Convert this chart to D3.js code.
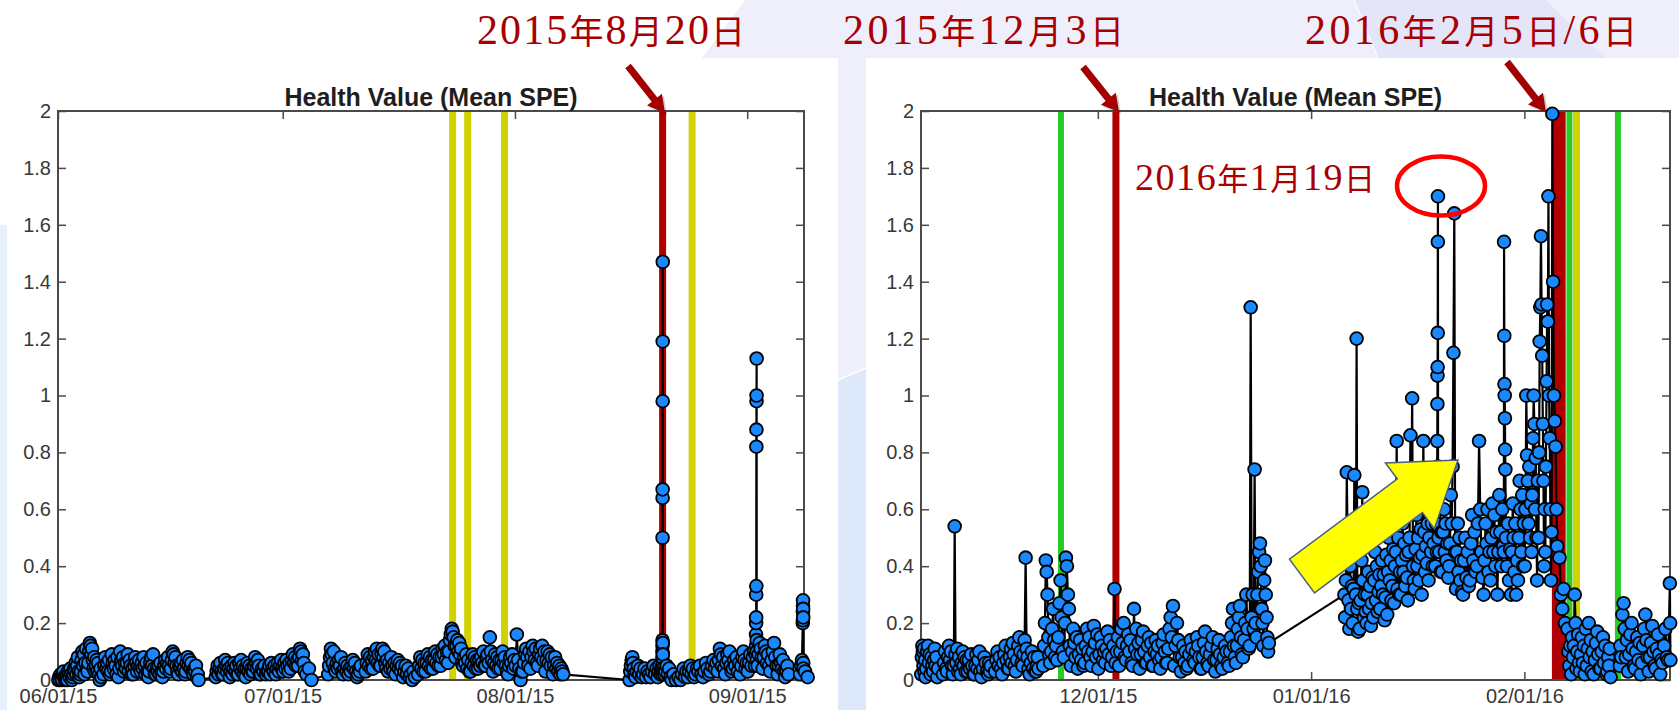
<!DOCTYPE html>
<html><head><meta charset="utf-8">
<script src="https://cdn.jsdelivr.net/npm/d3@7"></script>
<style>html,body{margin:0;padding:0;background:#fff;}svg{display:block;}</style>
</head><body>
<svg id="chart" width="1679" height="710"></svg>
<script>
// ---------------- DATA ----------------
const chartTitle = "Health Value (Mean SPE)";
const yTickValues = [0,0.2,0.4,0.6,0.8,1,1.2,1.4,1.6,1.8,2];
const yTickLabels = ["0","0.2","0.4","0.6","0.8","1","1.2","1.4","1.6","1.8","2"];
const leftXLim = ["2015-06-01T00:00","2015-09-08T14:00"];
const rightXLim = ["2015-11-05T07:00","2016-02-22T04:00"];
const leftXTicks = ["2015-06-01","2015-07-01","2015-08-01","2015-09-01"];
const leftXTickLabels = ["06/01/15","07/01/15","08/01/15","09/01/15"];
const rightXTicks = ["2015-12-01","2016-01-01","2016-02-01"];
const rightXTickLabels = ["12/01/15","01/01/16","02/01/16"];
const annotationLabels = ["2015年8月20日","2015年12月3日","2016年2月5日/6日","2016年1月19日"];

// events: [start, end(or null), type]
const leftEvents = [
 ["2015-07-23T16:20",null,"warning"],["2015-07-25T16:30",null,"warning"],
 ["2015-07-30T14:40",null,"warning"],["2015-08-20T17:00",null,"fault"],
 ["2015-08-24T15:30",null,"warning"]];
const rightEvents = [
 ["2015-11-25T15:20",null,"maintenance"],["2015-12-03T15:00",null,"fault"],
 ["2016-02-05T00:00","2016-02-07T00:00","fault"],["2016-02-07T13:10",null,"maintenance"],
 ["2016-02-08T13:40",null,"warning"],["2016-02-14T14:20",null,"maintenance"]];

// measurement segments: [day, fromHour, toHour, values]
const leftSegments = [
["2015-06-01",0,24,[0.00,0.01,0.00,0.02,0.01,0.00,0.02,0.03,0.01,0.00]],
["2015-06-02",0,24,[0.01,0.02,0.00,0.03,0.02,0.01,0.04,0.02,0.00,0.01]],
["2015-06-03",0,24,[0.02,0.04,0.03,0.06,0.02,0.05,0.08,0.03,0.01,0.02]],
["2015-06-04",0,24,[0.03,0.07,0.10,0.05,0.09,0.02,0.06,0.11,0.04,0.03]],
["2015-06-05",0,24,[0.06,0.10,0.13,0.12,0.09,0.11,0.07,0.04,0.08,0.03]],
["2015-06-06",0,20,[0.05,0.07,0.03,0.06,0.02,0.00,0.04,0.01]],
["2015-06-07",0,24,[0.02,0.05,0.08,0.04,0.06,0.03,0.07,0.02]],
["2015-06-08",0,24,[0.03,0.09,0.06,0.04,0.07,0.05,0.02,0.08]],
["2015-06-09",0,24,[0.01,0.04,0.10,0.07,0.05,0.08,0.03,0.06]],
["2015-06-10",0,24,[0.04,0.06,0.09,0.03,0.07,0.05,0.02,0.04]],
["2015-06-11",0,24,[0.02,0.05,0.08,0.06,0.03,0.05,0.07,0.04]],
["2015-06-12",0,24,[0.03,0.06,0.04,0.08,0.05,0.02,0.06,0.03]],
["2015-06-13",0,24,[0.01,0.03,0.06,0.08,0.05,0.09,0.04,0.02]],
["2015-06-14",0,24,[0.02,0.04,0.03,0.05,0.02,0.06,0.03,0.01]],
["2015-06-15",0,24,[0.03,0.05,0.07,0.04,0.06,0.08,0.05,0.03]],
["2015-06-16",0,24,[0.04,0.07,0.10,0.09,0.06,0.08,0.05,0.03]],
["2015-06-17",0,24,[0.02,0.05,0.04,0.06,0.03,0.07,0.04,0.02]],
["2015-06-18",0,24,[0.03,0.06,0.08,0.05,0.07,0.04,0.06,0.03]],
["2015-06-19",0,20,[0.02,0.04,0.03,0.05,0.01,0.02,0.00]],
["2015-06-22",0,24,[0.01,0.03,0.05,0.02,0.04,0.06,0.03,0.02]],
["2015-06-23",0,24,[0.02,0.04,0.07,0.05,0.03,0.06,0.04,0.01]],
["2015-06-24",0,24,[0.03,0.05,0.02,0.04,0.06,0.03,0.05,0.02]],
["2015-06-25",0,24,[0.02,0.06,0.04,0.07,0.03,0.05,0.02,0.04]],
["2015-06-26",0,24,[0.01,0.04,0.06,0.03,0.05,0.02,0.04,0.03]],
["2015-06-27",0,24,[0.03,0.05,0.08,0.06,0.04,0.07,0.05,0.02]],
["2015-06-28",0,24,[0.02,0.04,0.03,0.05,0.02,0.03]],
["2015-06-29",0,24,[0.03,0.05,0.02,0.06,0.04,0.03,0.05]],
["2015-06-30",0,24,[0.02,0.04,0.06,0.03,0.05,0.07,0.04]],
["2015-07-01",0,24,[0.03,0.06,0.04,0.07,0.05,0.03,0.06]],
["2015-07-02",0,24,[0.04,0.07,0.09,0.06,0.08,0.05,0.07]],
["2015-07-03",0,24,[0.05,0.08,0.11,0.10,0.07,0.09,0.06,0.03]],
["2015-07-04",0,24,[0.02,0.04,0.00]],
["2015-07-07",0,24,[0.02,0.05,0.08,0.11,0.09,0.06,0.10,0.04]],
["2015-07-08",0,24,[0.03,0.06,0.04,0.07,0.05,0.08,0.03]],
["2015-07-09",0,24,[0.02,0.04,0.06,0.03,0.05,0.02,0.04]],
["2015-07-10",0,24,[0.03,0.05,0.07,0.04,0.06,0.03,0.01]],
["2015-07-11",0,12,[0.02,0.04,0.03,0.05]],
["2015-07-12",0,24,[0.03,0.06,0.09,0.05,0.08,0.04,0.07]],
["2015-07-13",0,24,[0.04,0.08,0.10,0.07,0.11,0.06,0.09,0.05]],
["2015-07-14",0,24,[0.05,0.09,0.11,0.08,0.10,0.06,0.04,0.07]],
["2015-07-15",0,24,[0.03,0.06,0.04,0.08,0.05,0.03,0.06]],
["2015-07-16",0,24,[0.02,0.05,0.07,0.04,0.06,0.03,0.05]],
["2015-07-17",0,24,[0.01,0.03,0.05,0.02,0.04,0.01]],
["2015-07-18",0,18,[0.02,0.00,0.03,0.01]],
["2015-07-19",0,24,[0.02,0.05,0.08,0.04,0.07,0.03,0.06]],
["2015-07-20",0,24,[0.03,0.06,0.09,0.05,0.08,0.04,0.07]],
["2015-07-21",0,24,[0.04,0.07,0.10,0.06,0.09,0.05,0.08]],
["2015-07-22",0,24,[0.05,0.08,0.11,0.09,0.12,0.07,0.10]],
["2015-07-23",0,24,[0.06,0.10,0.14,0.16,0.18,0.17,0.15,0.12]],
["2015-07-24",0,24,[0.08,0.12,0.14,0.10,0.13,0.09,0.11,0.06]],
["2015-07-25",0,24,[0.05,0.08,0.06,0.09,0.04,0.07,0.03]],
["2015-07-26",0,24,[0.03,0.06,0.09,0.05,0.08,0.04,0.07]],
["2015-07-27",0,24,[0.04,0.07,0.05,0.08,0.06,0.10,0.05]],
["2015-07-28",0,24,[0.05,0.08,0.09,0.06,0.15,0.10,0.07]],
["2015-07-29",0,24,[0.03,0.06,0.09,0.05,0.08,0.04,0.07]],
["2015-07-30",0,24,[0.04,0.07,0.10,0.06,0.08,0.05,0.03]],
["2015-07-31",0,24,[0.02,0.05,0.08,0.06,0.09,0.04,0.07]],
["2015-08-01",0,24,[0.05,0.16,0.07,0.04,0.00,0.03]],
["2015-08-02",0,24,[0.03,0.06,0.09,0.11,0.08,0.05,0.10]],
["2015-08-03",0,24,[0.04,0.08,0.12,0.10,0.07,0.11,0.06]],
["2015-08-04",0,24,[0.05,0.09,0.11,0.08,0.12,0.07,0.10]],
["2015-08-05",0,24,[0.03,0.07,0.10,0.06,0.09,0.05,0.08]],
["2015-08-06",0,24,[0.02,0.05,0.08,0.04,0.06,0.03,0.05]],
["2015-08-07",0,12,[0.02,0.04,0.03,0.02]],
["2015-08-16",6,24,[0.00,0.03,0.05,0.07,0.08,0.06,0.04,0.02]],
["2015-08-17",0,24,[0.01,0.03,0.05,0.02,0.04,0.01]],
["2015-08-18",0,24,[0.02,0.04,0.01,0.03,0.02]],
["2015-08-19",0,24,[0.01,0.03,0.05,0.02,0.04]],
["2015-08-20",0,15,[0.01,0.03,0.05,0.02,0.04]],
["2015-08-20",16,18,[0.02,0.05,0.08,0.10,0.12,0.14,0.50,0.64,0.67,0.98,1.19,1.47,0.13,0.09,0.04]],
["2015-08-20",19,24,[0.03,0.02]],
["2015-08-21",0,24,[0.03,0.05,0.02,0.04,0.01,0.00]],
["2015-08-22",0,24,[0.02,0.00,0.01]],
["2015-08-23",0,24,[0.00,0.02,0.04,0.01,0.03]],
["2015-08-24",0,24,[0.01,0.03,0.05,0.02,0.04,0.01]],
["2015-08-25",0,24,[0.02,0.04,0.03,0.05,0.02]],
["2015-08-26",0,24,[0.01,0.03,0.06,0.04,0.02]],
["2015-08-27",0,24,[0.03,0.05,0.07,0.04,0.06]],
["2015-08-28",0,24,[0.03,0.07,0.11,0.09,0.05,0.08,0.04]],
["2015-08-29",0,24,[0.02,0.06,0.09,0.07,0.10,0.05,0.03]],
["2015-08-30",0,24,[0.04,0.07,0.05,0.08,0.03,0.06]],
["2015-08-31",0,24,[0.02,0.05,0.08,0.10,0.07,0.04,0.06]],
["2015-09-01",0,24,[0.03,0.06,0.09,0.05,0.08,0.10]],
["2015-09-02",0,4,[0.05,0.09]],
["2015-09-02",4,7,[0.12,0.16,0.20,0.22,0.30,0.33,0.82,0.88,0.98,1.00,1.13,0.14,0.10,0.07]],
["2015-09-02",8,24,[0.05,0.09,0.13,0.11,0.08]],
["2015-09-03",0,24,[0.04,0.08,0.12,0.10,0.06,0.09,0.05]],
["2015-09-04",0,24,[0.03,0.07,0.10,0.13,0.08,0.05]],
["2015-09-05",0,24,[0.02,0.05,0.09,0.06,0.04,0.07,0.03]],
["2015-09-06",0,14,[0.01,0.03,0.05,0.02]],
["2015-09-08",0,9,[0.02,0.05,0.07]],
["2015-09-08",10,12,[0.20,0.21,0.24,0.26,0.28,0.25,0.22,0.06,0.04]],
["2015-09-08",13,30,[0.03,0.01]]
];

const rightSegments = [
["2015-11-05",7,24,[0.02,0.08,0.12,0.10,0.05,0.11,0.03,0.07,0.01]],
["2015-11-06",0,24,[0.04,0.10,0.12,0.06,0.09,0.02,0.08,0.05]],
["2015-11-07",0,20,[0.03,0.07,0.11,0.05,0.08,0.01,0.04]],
["2015-11-08",10,24,[0.02,0.06,0.10,0.04]],
["2015-11-09",0,24,[0.03,0.08,0.12,0.07,0.10,0.05,0.02]],
["2015-11-10",0,24,[0.05,0.54,0.09,0.06,0.11,0.03,0.08,0.04]],
["2015-11-11",0,24,[0.02,0.06,0.10,0.05,0.08,0.03,0.07]],
["2015-11-12",0,24,[0.03,0.07,0.04,0.09,0.05,0.02]],
["2015-11-13",0,24,[0.02,0.05,0.09,0.04,0.07,0.10,0.03]],
["2015-11-14",0,24,[0.01,0.04,0.08,0.06,0.03]],
["2015-11-15",0,12,[0.02,0.06,0.03,0.05]],
["2015-11-16",0,24,[0.03,0.07,0.10,0.05,0.08,0.04]],
["2015-11-17",0,24,[0.02,0.06,0.09,0.12,0.07,0.04]],
["2015-11-18",0,24,[0.04,0.08,0.11,0.06,0.13,0.09,0.05]],
["2015-11-19",0,24,[0.03,0.07,0.12,0.15,0.10,0.06]],
["2015-11-20",0,24,[0.05,0.09,0.14,0.43,0.11,0.08,0.04]],
["2015-11-21",0,24,[0.02,0.06,0.10,0.04,0.08,0.03]],
["2015-11-22",0,10,[0.03,0.05,0.08,0.04]],
["2015-11-23",0,24,[0.05,0.12,0.20,0.42,0.38,0.30,0.15,0.09]],
["2015-11-24",0,24,[0.06,0.10,0.18,0.25,0.14,0.08,0.12]],
["2015-11-25",0,24,[0.07,0.15,0.27,0.35,0.22,0.10]],
["2015-11-26",0,24,[0.08,0.20,0.43,0.40,0.30,0.25,0.12]],
["2015-11-27",0,24,[0.05,0.10,0.18,0.13,0.08,0.15]],
["2015-11-28",0,24,[0.04,0.09,0.14,0.07,0.11,0.05]],
["2015-11-29",0,24,[0.06,0.12,0.18,0.10,0.15,0.08]],
["2015-11-30",0,24,[0.05,0.10,0.19,0.13,0.08,0.16]],
["2015-12-01",0,24,[0.04,0.09,0.15,0.12,0.07,0.10]],
["2015-12-02",0,24,[0.06,0.11,0.17,0.09,0.14,0.05]],
["2015-12-03",0,24,[0.08,0.12,0.32,0.06,0.10,0.15]],
["2015-12-04",0,24,[0.05,0.10,0.18,0.13,0.20,0.08]],
["2015-12-05",0,24,[0.07,0.12,0.16,0.10,0.14,0.06]],
["2015-12-06",0,24,[0.05,0.25,0.11,0.18,0.09,0.13]],
["2015-12-07",0,24,[0.04,0.09,0.14,0.17,0.10,0.06]],
["2015-12-08",0,24,[0.06,0.12,0.15,0.08,0.13,0.05]],
["2015-12-09",0,24,[0.05,0.10,0.14,0.09,0.12,0.07]],
["2015-12-10",0,24,[0.04,0.08,0.13,0.16,0.10,0.06]],
["2015-12-11",0,24,[0.06,0.11,0.18,0.22,0.15,0.26]],
["2015-12-12",0,24,[0.05,0.12,0.20,0.14,0.08]],
["2015-12-13",0,24,[0.03,0.08,0.12,0.06,0.10,0.04]],
["2015-12-14",0,24,[0.05,0.09,0.14,0.11,0.07]],
["2015-12-15",0,24,[0.06,0.10,0.15,0.12,0.08,0.04]],
["2015-12-16",0,24,[0.04,0.08,0.13,0.17,0.10,0.06]],
["2015-12-17",0,24,[0.05,0.09,0.12,0.15,0.07]],
["2015-12-18",0,24,[0.03,0.07,0.11,0.14,0.09,0.05]],
["2015-12-19",0,24,[0.04,0.08,0.12,0.10,0.06]],
["2015-12-20",0,24,[0.05,0.10,0.15,0.20,0.25,0.12,0.08]],
["2015-12-21",0,24,[0.06,0.12,0.18,0.22,0.26,0.15,0.09]],
["2015-12-22",0,24,[0.08,0.14,0.20,0.30,0.18,0.11]],
["2015-12-23",0,24,[0.12,1.31,0.22,0.30,0.18,0.74,0.20]],
["2015-12-24",0,24,[0.15,0.30,0.38,0.45,0.48,0.40,0.25,0.20]],
["2015-12-25",0,22,[0.12,0.35,0.42,0.30,0.22,0.15,0.10,0.13]],
["2016-01-05",19,24,[0.30,0.22]],
["2016-01-06",0,24,[0.35,0.73,0.45,0.28,0.18,0.40,0.25,0.33]],
["2016-01-07",0,24,[0.20,0.32,0.72,0.50,0.30,1.20,0.25,0.17,0.27]],
["2016-01-08",0,24,[0.18,0.28,0.42,0.66,0.35,0.22,0.30,0.24]],
["2016-01-09",0,24,[0.20,0.30,0.38,0.25,0.33,0.19,0.27,0.36]],
["2016-01-10",0,24,[0.22,0.35,0.45,0.28,0.40,0.24,0.31,0.37]],
["2016-01-11",0,24,[0.25,0.33,0.42,0.30,0.37,0.21,0.29,0.44]],
["2016-01-12",0,24,[0.23,0.38,0.50,0.35,0.42,0.28,0.33,0.46]],
["2016-01-13",0,24,[0.27,0.40,0.45,0.84,0.32,0.50,0.30,0.38]],
["2016-01-14",0,24,[0.30,0.42,0.55,0.38,0.48,0.33,0.44,0.36]],
["2016-01-15",0,24,[0.28,0.45,0.50,0.86,0.60,0.99,0.40,0.35]],
["2016-01-16",0,24,[0.32,0.46,0.58,0.40,0.50,0.35,0.43,0.53]],
["2016-01-17",0,24,[0.30,0.44,0.84,0.52,0.38,0.47,0.41,0.55]],
["2016-01-18",0,24,[0.35,0.50,0.62,0.45,0.55,0.40,0.48,0.58]],
["2016-01-19",0,8,[0.40,0.55,0.45]],
["2016-01-19",8,11,[0.84,0.97,1.07,1.10,1.22,1.54,1.70,0.75]],
["2016-01-19",11,24,[0.50,0.45,0.60,0.38,0.52]],
["2016-01-20",0,24,[0.38,0.52,0.60,0.45,0.55,0.42,0.48,0.36]],
["2016-01-21",0,24,[0.40,0.48,0.65,0.55,0.75,1.15,1.64,0.45]],
["2016-01-22",0,24,[0.32,0.45,0.55,0.38,0.50,0.35,0.42,0.31]],
["2016-01-23",0,24,[0.30,0.42,0.50,0.36,0.45,0.33]],
["2016-01-24",0,24,[0.35,0.48,0.58,0.42,0.52,0.38]],
["2016-01-25",0,24,[0.40,0.55,0.84,0.60,0.45,0.36]],
["2016-01-26",0,24,[0.30,0.42,0.55,0.48,0.60,0.38,0.45]],
["2016-01-27",0,24,[0.35,0.50,0.62,0.45,0.58,0.40,0.52]],
["2016-01-28",0,24,[0.30,0.45,0.65,0.52,0.40,0.60,0.47]],
["2016-01-29",0,6,[0.45,1.54,1.21,1.04,1.00,0.92,0.81,0.74]],
["2016-01-29",6,24,[0.50,0.40,0.55,0.35,0.46]],
["2016-01-30",0,24,[0.30,0.45,0.62,0.50,0.38,0.55,0.30,0.42]],
["2016-01-31",0,24,[0.35,0.50,0.70,0.60,0.45,0.65,0.40,0.55]],
["2016-02-01",0,24,[0.40,0.60,1.00,0.79,0.70,0.55,0.75,0.50,0.62]],
["2016-02-02",0,24,[0.45,0.65,0.85,1.00,0.90,0.60,0.78,0.50,0.35,0.70]],
["2016-02-03",0,24,[0.50,0.80,1.19,1.31,1.56,1.32,1.14,0.90,0.70,0.40,0.60]],
["2016-02-04",0,24,[0.45,0.75,1.05,1.32,1.26,1.70,1.00,0.85,0.60,0.35,0.52]],
["2016-02-05",0,20,[1.99,1.40,1.00,0.91,0.82,0.60,0.47]],
["2016-02-06",0,24,[0.43,0.30,0.25,0.32,0.20]],
["2016-02-07",5,24,[0.18,0.10,0.05,0.12,0.02,0.15]],
["2016-02-08",0,24,[0.08,0.12,0.30,0.20,0.04,0.10,0.16,0.06]],
["2016-02-09",0,24,[0.03,0.09,0.15,0.06,0.12,0.02,0.18]],
["2016-02-10",0,24,[0.05,0.11,0.20,0.08,0.14,0.03,0.10]],
["2016-02-11",0,24,[0.02,0.07,0.13,0.17,0.09,0.04]],
["2016-02-12",0,24,[0.04,0.10,0.15,0.06,0.12,0.02]],
["2016-02-13",0,14,[0.03,0.08,0.05,0.11,0.01]],
["2016-02-14",20,24,[0.05,0.12]],
["2016-02-15",0,24,[0.08,0.23,0.27,0.18,0.08,0.14]],
["2016-02-16",0,24,[0.03,0.09,0.16,0.20,0.11,0.05]],
["2016-02-17",0,24,[0.04,0.10,0.15,0.07,0.13,0.02]],
["2016-02-18",0,24,[0.06,0.12,0.18,0.23,0.14,0.08]],
["2016-02-19",0,24,[0.03,0.08,0.13,0.19,0.10,0.05]],
["2016-02-20",0,24,[0.04,0.11,0.16,0.09,0.02,0.07]],
["2016-02-21",0,24,[0.06,0.12,0.18,0.08,0.07]],
["2016-02-22",3,6,[0.34,0.20,0.07]]
];

// ---------------- RENDER ----------------
const svg = d3.select("#chart");
const parseDT = d3.utcParse("%Y-%m-%dT%H:%M");
const parseD = d3.utcParse("%Y-%m-%d");
const evColor = {fault:"#b00000", warning:"#d2d200", maintenance:"#27cc27"};
const evWidth = {fault:7, warning:7, maintenance:6};
const sansFont = "'Liberation Sans', Arial, Helvetica, sans-serif";

// slide background
svg.append("rect").attr("width",1679).attr("height",710).attr("fill","#ffffff");
svg.append("polygon").attr("points","745,0 1679,0 1679,58 866,58 866,368 838,380 838,58 702,58").attr("fill","#efeffc");
svg.append("polygon").attr("points","1354,0 1546,0 1605,58 1378,58").attr("fill","#e5e5fa");
svg.append("line").attr("x1",1354).attr("y1",0).attr("x2",1378).attr("y2",58).attr("stroke","#fafaff").attr("stroke-width",1.5);
svg.append("polygon").attr("points","838,380 866,368 866,710 838,710").attr("fill","#dde8fa");
svg.append("line").attr("x1",838).attr("y1",380).attr("x2",866).attr("y2",368).attr("stroke","#ffffff").attr("stroke-width",1.5);
svg.append("rect").attr("x",0).attr("y",225).attr("width",7).attr("height",485).attr("fill","#e6f1fc");
svg.append("rect").attr("x",866).attr("y",58).attr("width",813).attr("height",652).attr("fill","#ffffff");

function expand(segs){
  const pts=[];
  segs.forEach(([day,h0,h1,vals])=>{
    const base=parseD(day).getTime(); const n=vals.length;
    vals.forEach((v,i)=>{ const h=h0+(h1-h0)*(i+0.5)/n; pts.push({t:new Date(base+h*3600e3), v}); });
  });
  return pts;
}

function drawPanel(box, xlim, segs, events, xt, xtl){
  const g = svg.append("g");
  const x = d3.scaleUtc().domain(xlim.map(parseDT)).range([box.x0, box.x1]);
  const y = d3.scaleLinear().domain([0,2]).range([box.y1, box.y0]);
  events.forEach(([s,e,type])=>{
    const xs = x(parseDT(s));
    if(e){ const xe=x(parseDT(e));
      g.append("rect").attr("x",xs).attr("y",box.y0).attr("width",xe-xs).attr("height",box.y1-box.y0).attr("fill",evColor[type]);
    } else {
      g.append("rect").attr("x",xs-evWidth[type]/2).attr("y",box.y0).attr("width",evWidth[type]).attr("height",box.y1-box.y0).attr("fill",evColor[type]);
    }
  });
  const axStyle = sel => { sel.select(".domain").remove();
    sel.selectAll(".tick line").attr("stroke","#4a4a4a").attr("stroke-width",1.5);
    sel.selectAll(".tick text").attr("fill","#383838").attr("font-size",20).attr("font-family",sansFont); };
  g.append("g").attr("transform",`translate(${box.x0},0)`)
    .call(d3.axisLeft(y).tickValues(yTickValues).tickFormat((d,i)=>yTickLabels[i]).tickSizeInner(-8).tickSizeOuter(0).tickPadding(7)).call(axStyle);
  g.append("g").attr("transform",`translate(${box.x1},0)`)
    .call(d3.axisRight(y).tickValues(yTickValues).tickFormat("").tickSizeInner(-8).tickSizeOuter(0)).call(axStyle);
  const xtd = xt.map(parseD);
  g.append("g").attr("transform",`translate(0,${box.y1})`)
    .call(d3.axisBottom(x).tickValues(xtd).tickFormat((d,i)=>xtl[i]).tickSizeInner(-8).tickSizeOuter(0).tickPadding(9)).call(axStyle);
  g.append("g").attr("transform",`translate(0,${box.y0})`)
    .call(d3.axisTop(x).tickValues(xtd).tickFormat("").tickSizeInner(-8).tickSizeOuter(0)).call(axStyle);
  g.append("rect").attr("x",box.x0).attr("y",box.y0).attr("width",box.x1-box.x0).attr("height",box.y1-box.y0)
    .attr("fill","none").attr("stroke","#4a4a4a").attr("stroke-width",2);
  g.append("text").attr("x",(box.x0+box.x1)/2).attr("y",box.y0-5).attr("text-anchor","middle")
    .attr("font-family",sansFont).attr("font-weight","bold").attr("font-size",25)
    .attr("fill","#1e1e1e").text(chartTitle);
  const pts = expand(segs);
  g.append("path").datum(pts).attr("d", d3.line().x(d=>x(d.t)).y(d=>y(d.v)))
    .attr("fill","none").attr("stroke","#000").attr("stroke-width",2.2).attr("stroke-linejoin","round");
  g.selectAll("circle.pt").data(pts).join("circle").attr("class","pt")
    .attr("cx",d=>x(d.t)).attr("cy",d=>y(d.v)).attr("r",6.4)
    .attr("fill","#1a88ff").attr("stroke","#000").attr("stroke-width",1.8);
}

drawPanel({x0:58,x1:804,y0:111,y1:680}, leftXLim, leftSegments, leftEvents, leftXTicks, leftXTickLabels);
drawPanel({x0:921,x1:1670,y0:111,y1:680}, rightXLim, rightSegments, rightEvents, rightXTicks, rightXTickLabels);

// ---------------- ANNOTATIONS ----------------
function redLabel(str, x, baseline, width, dSize, cSize){
  const t = svg.append("text").attr("x",x).attr("y",baseline).attr("fill","#a80000")
    .attr("textLength",width).attr("lengthAdjust","spacing");
  str.match(/[\u3000-\u9fff]+|[^\u3000-\u9fff]+/g).forEach(r=>{
    const cjk=/[\u3000-\u9fff]/.test(r);
    t.append("tspan").text(r)
      .attr("font-family", cjk ? "'Noto Sans CJK SC','Noto Sans CJK JP',sans-serif" : "'Liberation Serif','DejaVu Serif',serif")
      .attr("font-size", cjk ? cSize : dSize);
  });
}
redLabel(annotationLabels[0], 477, 44, 268, 42, 34);
redLabel(annotationLabels[1], 843, 44, 281, 42, 34);
redLabel(annotationLabels[2], 1305, 44, 332, 42, 34);
redLabel(annotationLabels[3], 1135, 190, 240, 38, 31);

function arrowPts(sx,sy,tx,ty,hw,hl,hh){
  const L=Math.hypot(tx-sx,ty-sy), dx=(tx-sx)/L, dy=(ty-sy)/L, nx=-dy, ny=dx;
  const bx=tx-dx*hl, by=ty-dy*hl;
  return [[sx+nx*hw,sy+ny*hw],[bx+nx*hw,by+ny*hw],[bx+nx*hh,by+ny*hh],[tx,ty],[bx-nx*hh,by-ny*hh],[bx-nx*hw,by-ny*hw],[sx-nx*hw,sy-ny*hw]].map(p=>p.join(",")).join(" ");
}
[[628,66,665,113],[1083,67,1119,112],[1507,62,1546,112]].forEach(a=>{
  svg.append("polygon").attr("points",arrowPts(a[0]+2,a[1]+2,a[2]+2,a[3]+2,3.5,17,9.5)).attr("fill","#000").attr("opacity",0.18);
  svg.append("polygon").attr("points",arrowPts(a[0],a[1],a[2],a[3],3.5,17,9.5)).attr("fill","#a50000");
});
svg.append("polygon").attr("points",arrowPts(1302,576,1458,460,21,60,41))
  .attr("fill","#ffff00").attr("stroke","#4a5f80").attr("stroke-width",1.5).attr("stroke-linejoin","miter");
svg.append("ellipse").attr("cx",1441).attr("cy",186).attr("rx",44).attr("ry",29.5)
  .attr("fill","none").attr("stroke","#ff0000").attr("stroke-width",4.5);
</script>
</body></html>
